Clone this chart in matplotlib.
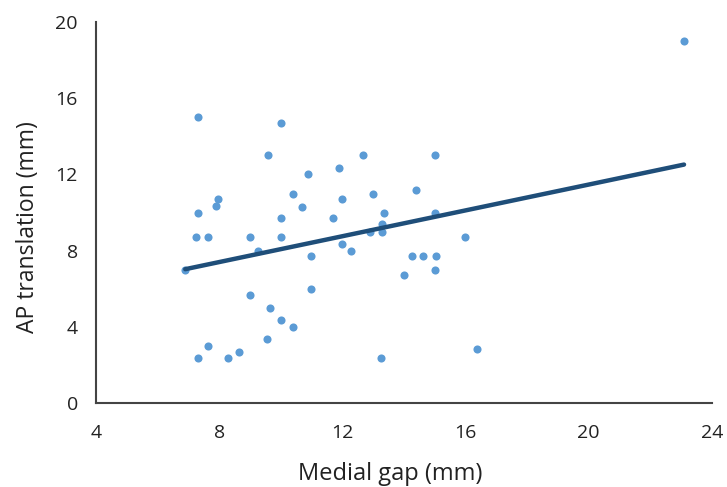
import numpy as np
import matplotlib
matplotlib.use("Agg")
import matplotlib.pyplot as plt

plt.rcParams['font.family'] = ['Open Sans', 'DejaVu Sans']

medial_gap = [
    7.3, 10.0, 9.6, 10.9, 10.4, 7.95, 7.9, 10.7, 7.3, 10.0,
    7.25, 7.65, 9.0, 10.0, 9.27, 11.0,
    9.0, 11.0, 9.65, 10.0, 10.4, 9.57, 7.65, 8.65, 7.3, 8.3,
    12.67, 15.0, 11.9, 13.0, 14.4, 12.0, 13.35, 15.0, 11.7, 13.3,
    13.3, 12.9, 16.0, 12.0, 12.27, 14.27, 14.63, 15.06, 15.0, 14.0,
    13.27, 16.37, 23.1, 6.9,
]
ap_translation = [
    15.0, 14.7, 13.0, 12.0, 11.0, 10.7, 10.35, 10.3, 10.0, 9.7,
    8.7, 8.7, 8.7, 8.7, 8.0, 7.7,
    5.7, 6.0, 5.0, 4.35, 4.0, 3.35, 3.0, 2.7, 2.35, 2.35,
    13.0, 13.0, 12.35, 11.0, 11.2, 10.7, 10.0, 10.0, 9.7, 9.4,
    9.0, 9.0, 8.7, 8.33, 8.0, 7.7, 7.7, 7.7, 7.0, 6.7,
    2.35, 2.87, 19.0, 7.0,
]
x_ticks = [4, 8, 12, 16, 20, 24]
y_ticks = [0, 4, 8, 12, 16, 20]

x = np.array(medial_gap)
y = np.array(ap_translation)
slope, intercept = np.polyfit(x, y, 1)
tx = np.array([x.min(), x.max()])

fig = plt.figure(figsize=(7.27, 4.87), dpi=100)
ax = fig.add_axes([0.132, 0.172, 0.847, 0.783])
ax.scatter(x, y, s=34, color='#5B9BD5', zorder=2, linewidths=0)
ax.plot(tx, slope * tx + intercept, color='#1F4E79', lw=3.2,
        solid_capstyle='round', zorder=3)

ax.set_xlim(4, 24)
ax.set_ylim(0, 20)
ax.set_xticks(x_ticks)
ax.set_yticks(y_ticks)
ax.tick_params(length=0, labelsize=14, colors='#222222', pad=13)
ax.tick_params(axis='x', pad=15)
for s in ['top', 'right']:
    ax.spines[s].set_visible(False)
for s in ['left', 'bottom']:
    ax.spines[s].set_color('#444444')
    ax.spines[s].set_linewidth(1.5)
ax.set_xlabel('Medial gap (mm)', fontsize=17, color='#222222')
ax.set_ylabel('AP translation (mm)', fontsize=16.5, color='#222222')
ax.xaxis.set_label_coords(0.478, -0.155)
ax.yaxis.set_label_coords(-0.091, 0.462)

fig.savefig('out.png', dpi=100)
